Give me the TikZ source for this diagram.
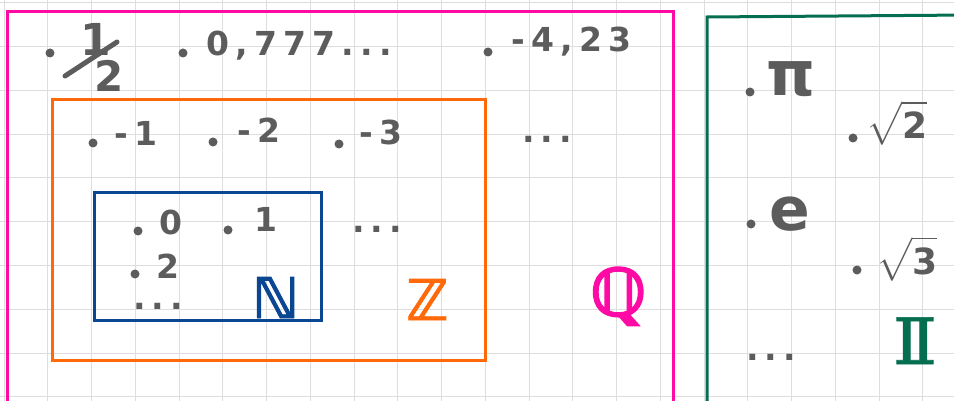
\documentclass[tikz,border=0pt]{standalone}
\usepackage{amssymb}
\usepackage{fontspec}
\setmainfont{DejaVu Sans}
\definecolor{gridgray}{RGB}{222,222,222}
\definecolor{numgray}{RGB}{92,92,92}
\definecolor{qpink}{RGB}{255,10,165}
\definecolor{zorange}{RGB}{255,105,10}
\definecolor{nblue}{RGB}{10,70,145}
\definecolor{igreen}{RGB}{5,110,80}
\newcommand\numfont{\fontsize{33}{33}\selectfont\bfseries\addfontfeature{LetterSpace=19}}
\newcommand\bigfont{\fontsize{56}{56}\selectfont\bfseries\addfontfeature{FakeBold=1.6}}
\begin{document}
\begin{tikzpicture}[x=1pt,y=-1pt,
  gridline/.style={draw=gridgray, line width=1pt},
  setbox/.style={line width=3pt, line join=miter},
  pt/.style={circle, fill=numgray, inner sep=0pt, minimum size=9pt},
  num/.style={text=numgray, inner sep=0pt, anchor=base west, font=\numfont},
  ell/.style={num, text height=6pt, text depth=0pt},
  setname/.style={inner sep=0pt, anchor=base west}]
\useasboundingbox (0,0) rectangle (954,401);
\clip (0,0) rectangle (954,401);
\fill[white] (0,0) rectangle (954,401);
% grid
\foreach \i in {0,...,21} \draw[gridline] ({4+43.75*\i},0) -- ({4+43.75*\i},401);
\foreach \j in {0,...,9} \draw[gridline] (0,{3+43.75*\j}) -- (954,{3+43.75*\j});
% set boxes
\draw[setbox, qpink] (7,12) rectangle (673,420);
\draw[setbox, zorange] (52,100) rectangle (485,360);
\draw[setbox, nblue] (94,193) rectangle (321,320);
\draw[setbox, igreen] (707,420) -- (707,17) -- (970,15);
% rationals
\node[pt] (d1) at (50,53) {};
\node[num, font=\fontsize{44}{44}\selectfont\bfseries] (h1) at (80,56) {1};
\node[num, font=\fontsize{42}{42}\selectfont\bfseries, text height=28pt] (h2) at (94,92) {2};
\draw[numgray, line width=5pt, line cap=round] (65,76) -- (117,42);
\node[pt] (d2) at (183,53) {};
\node[num] (q2) at (206,56) {0,777...};
\node[pt] (d3) at (488,52) {};
\node[num] (q3) at (511,52) {-4,23};
% integers
\node[pt] (d4) at (93,143) {};
\node[num] (z1) at (114,146) {-1};
\node[pt] (d5) at (213,142) {};
\node[num] (z2) at (237,143) {-2};
\node[pt] (d6) at (339,144) {};
\node[num] (z3) at (359,145) {-3};
\node[ell] (z4) at (522,143) {...};
% naturals
\node[pt] (d7) at (138,231) {};
\node[num] (n0) at (159,234) {0};
\node[pt] (d8) at (228,230) {};
\node[num] (n1) at (254,232) {1};
\node[pt] (d9) at (135,274) {};
\node[num, text depth=0pt] (n2) at (156,278) {2};
\node[ell] (n3) at (133,309) {...};
\node[ell] (z5) at (352,233) {...};
% set names
\node[setname, text=nblue, font=\bigfont] (N) at (252,318) {ℕ};
\node[setname, text=zorange, font=\bigfont] (Z) at (406,320) {ℤ};
\node[setname, text=qpink, font=\fontsize{66}{66}\selectfont\bfseries\addfontfeature{FakeBold=2}] (Q) at (590,316) {ℚ};
\node[setname, text=igreen, font=\fontsize{64}{64}\selectfont\bfseries\addfontfeature{FakeBold=1}] (I) at (889,364) {\scalebox{1.75}[1]{𝕀}};
% irrationals
\node[pt] (d10) at (750,92) {};
\node[num, font=\fontsize{62}{62}\selectfont\bfseries] (pi) at (766,96) {π};
\node[pt] (d11) at (853,138) {};
\node[num, font=\fontsize{36}{36}\selectfont\bfseries] (r2) at (866,139) {$\sqrt{\mbox{2}}$};
\node[pt] (d12) at (751,224) {};
\node[num, font=\fontsize{60}{60}\selectfont\bfseries] (e) at (769,230) {e};
\node[pt] (d13) at (857,270) {};
\node[num, font=\fontsize{36}{36}\selectfont\bfseries] (r3) at (876,274) {$\sqrt{\mbox{3}}$};
\node[ell] (i5) at (746,360) {...};
\end{tikzpicture}
\end{document}
